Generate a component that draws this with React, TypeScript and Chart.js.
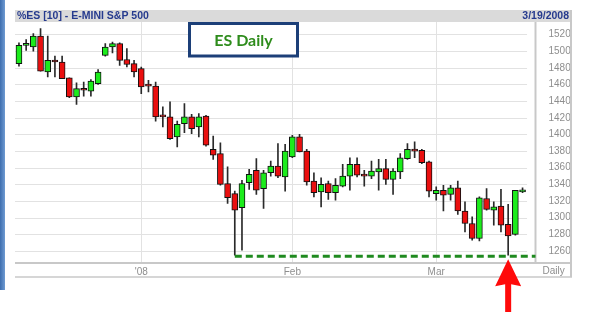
import React, { useEffect, useRef } from 'react';
import { Chart, registerables } from 'chart.js';

Chart.register(...registerables);

// ---------- data ----------
const dates = [
  'Dec 6', 'Dec 7', 'Dec 10', 'Dec 11', 'Dec 12', 'Dec 13', 'Dec 14', 'Dec 17', 'Dec 18', 'Dec 19',
  'Dec 20', 'Dec 21', 'Dec 24', 'Dec 26', 'Dec 27', 'Dec 28', 'Dec 31',
  'Jan 2', 'Jan 3', 'Jan 4', 'Jan 7', 'Jan 8', 'Jan 9', 'Jan 10', 'Jan 11', 'Jan 14', 'Jan 15',
  'Jan 16', 'Jan 17', 'Jan 18', 'Jan 22', 'Jan 23', 'Jan 24', 'Jan 25', 'Jan 28', 'Jan 29', 'Jan 30', 'Jan 31',
  'Feb 1', 'Feb 4', 'Feb 5', 'Feb 6', 'Feb 7', 'Feb 8', 'Feb 11', 'Feb 12', 'Feb 13', 'Feb 14',
  'Feb 15', 'Feb 19', 'Feb 20', 'Feb 21', 'Feb 22', 'Feb 25', 'Feb 26', 'Feb 27', 'Feb 28', 'Feb 29',
  'Mar 3', 'Mar 4', 'Mar 5', 'Mar 6', 'Mar 7', 'Mar 10', 'Mar 11', 'Mar 12', 'Mar 13', 'Mar 14',
  'Mar 17', 'Mar 18', 'Mar 19',
];

const opens = [
  1485, 1507, 1505, 1518, 1475, 1489, 1487, 1468, 1445, 1455,
  1452, 1461, 1495, 1505, 1509, 1490, 1485,
  1479, 1459, 1458, 1423, 1421, 1397, 1413, 1421, 1409, 1422,
  1382, 1377, 1341, 1329, 1312, 1342, 1357, 1335, 1354, 1362, 1349,
  1373, 1397, 1380, 1344, 1331, 1341, 1330, 1338, 1350, 1364,
  1352, 1350, 1355, 1359, 1346, 1355, 1371, 1382, 1381, 1367,
  1329, 1333, 1328, 1336, 1308, 1293, 1275, 1323, 1309, 1314,
  1292, 1280, 1331,
];

const highs = [
  1510, 1514, 1521, 1527, 1518, 1494, 1494, 1468, 1462, 1463,
  1466, 1478, 1509, 1511, 1510, 1503, 1489,
  1481, 1465, 1463, 1433, 1439, 1416, 1437, 1424, 1425, 1423,
  1398, 1390, 1361, 1332, 1345, 1358, 1371, 1357, 1368, 1389, 1388,
  1399, 1400, 1382, 1354, 1348, 1344, 1347, 1364, 1372, 1372,
  1357, 1368, 1370, 1370, 1359, 1377, 1389, 1391, 1382, 1368,
  1337, 1339, 1339, 1344, 1319, 1301, 1325, 1335, 1319, 1334,
  1316, 1333, 1336,
];

const lows = [
  1482, 1501, 1500, 1476, 1469, 1469, 1467, 1444, 1436, 1446,
  1446, 1460, 1494, 1498, 1483, 1481, 1469,
  1449, 1451, 1416, 1409, 1394, 1385, 1402, 1401, 1397, 1386,
  1370, 1339, 1317, 1255, 1261, 1334, 1328, 1311, 1350, 1348, 1332,
  1372, 1379, 1339, 1325, 1313, 1322, 1321, 1337, 1333, 1349,
  1338, 1347, 1333, 1340, 1328, 1347, 1370, 1372, 1365, 1325,
  1321, 1308, 1321, 1304, 1283, 1273, 1272, 1309, 1291, 1283,
  1255, 1279, 1330,
];

const closes = [
  1507, 1507.5, 1518, 1476, 1489, 1487, 1467, 1445, 1455, 1453,
  1464, 1475, 1505, 1509, 1489, 1484, 1475,
  1457, 1458, 1421, 1421, 1395, 1412, 1421, 1407, 1421, 1387,
  1375, 1340, 1324, 1309, 1341, 1352, 1333, 1354, 1362, 1350, 1380,
  1397, 1379, 1343, 1330, 1340, 1330, 1339, 1350, 1364, 1351,
  1350, 1356, 1359, 1346, 1356, 1372, 1382, 1380, 1366, 1332,
  1333, 1327, 1336, 1308, 1293, 1275, 1324, 1310, 1313, 1291,
  1278, 1333, 1332,
];

const monthStartIdx = [17, 38, 58];
const monthLabels = ["'08", 'Feb', 'Mar'];
const yTicks = [1260, 1280, 1300, 1320, 1340, 1360, 1380, 1400, 1420, 1440, 1460, 1480, 1500, 1520];
const supportLevel = 1255;
const supportFromIdx = 30;
const arrowIdx = 68;

const titleText = '%ES [10] - E-MINI S&P 500';
const asOfText = '3/19/2008';
const boxText = 'ES Daily';
const periodText = 'Daily';

// ---------- styles ----------
const UP = '#1cec1c';
const DOWN = '#ea0f0f';
const AXIS_FONT = '"Liberation Sans", Arial, sans-serif';
const AXIS_COLOR = '#8e8e8e';
const FRAME_COLOR = '#c8c8c8';

const framePlugin = {
  id: 'frame',
  beforeDraw(chart: any) {
    const { ctx, chartArea: a, scales } = chart;
    const right = a.right + scales.y.width;
    ctx.save();
    ctx.fillStyle = '#ffffff';
    ctx.fillRect(0, 0, chart.width, chart.height);

    // left blue strip
    const g = ctx.createLinearGradient(0, 0, 5, 0);
    g.addColorStop(0, '#3e6eae');
    g.addColorStop(1, '#6f9bd2');
    ctx.fillStyle = g;
    ctx.fillRect(0, 0, 5, 290);

    // header bar
    ctx.fillStyle = '#dadada';
    ctx.fillRect(a.left, 10, right - a.left, a.top - 10);
    ctx.font = 'bold 10.5px "Liberation Sans", Arial, sans-serif';
    ctx.fillStyle = '#263b8e';
    ctx.textBaseline = 'middle';
    ctx.textAlign = 'left';
    ctx.fillText(titleText, a.left + 2, 16.5);
    ctx.textAlign = 'right';
    ctx.fillText(asOfText, right - 3, 16.5);

    // horizontal grid lines
    const gridRight = scales.x.getPixelForValue(dates.length - 1) + 4.5;
    ctx.strokeStyle = '#e2e2e2';
    ctx.lineWidth = 1;
    yTicks.forEach((v) => {
      const y = Math.round(scales.y.getPixelForValue(v)) + 0.5;
      ctx.beginPath();
      ctx.moveTo(a.left, y);
      ctx.lineTo(gridRight, y);
      ctx.stroke();
    });
    ctx.restore();
  },
  beforeDatasetsDraw(chart: any) {
    const { ctx, chartArea: a, scales } = chart;
    const right = a.right + scales.y.width;
    const bottom = a.bottom + scales.x.height;
    ctx.save();
    ctx.strokeStyle = FRAME_COLOR;
    ctx.lineWidth = 2;
    ctx.beginPath();
    ctx.moveTo(a.right, a.top);
    ctx.lineTo(a.right, a.bottom);
    ctx.stroke();
    ctx.beginPath();
    ctx.moveTo(a.left, a.bottom);
    ctx.lineTo(right, a.bottom);
    ctx.stroke();
    ctx.beginPath();
    ctx.moveTo(right - 1, 10);
    ctx.lineTo(right - 1, bottom);
    ctx.stroke();
    ctx.lineWidth = 1.5;
    ctx.beginPath();
    ctx.moveTo(a.left, bottom);
    ctx.lineTo(right, bottom);
    ctx.stroke();
    ctx.restore();
  },
  afterDatasetsDraw(chart: any) {
    const { ctx, chartArea: a, scales } = chart;
    ctx.save();
    // support line
    const ys = scales.y.getPixelForValue(supportLevel) + 1;
    const xs = scales.x.getPixelForValue(supportFromIdx);
    ctx.strokeStyle = '#1f8a1f';
    ctx.lineWidth = 3;
    ctx.setLineDash([7, 4]);
    ctx.beginPath();
    ctx.moveTo(xs, ys);
    ctx.lineTo(a.right, ys);
    ctx.stroke();
    ctx.setLineDash([]);

    // "Daily"
    ctx.font = '10px ' + AXIS_FONT;
    ctx.fillStyle = AXIS_COLOR;
    ctx.textAlign = 'left';
    ctx.textBaseline = 'top';
    ctx.fillText(periodText, a.right + 7, a.bottom + 3);

    // ES Daily box
    ctx.fillStyle = '#ffffff';
    ctx.fillRect(189, 23, 109, 33);
    ctx.strokeStyle = '#1c3f78';
    ctx.lineWidth = 3;
    ctx.strokeRect(189.5, 23.5, 108, 32.5);
    ctx.font = 'bold 16px Lato, "Open Sans", sans-serif';
    ctx.fillStyle = '#2e8c1c';
    ctx.textAlign = 'center';
    ctx.textBaseline = 'middle';
    ctx.fillText(boxText, 243.5, 40.5);

    // red arrow
    const xa = scales.x.getPixelForValue(arrowIdx);
    const tip = ys + 3;
    ctx.fillStyle = '#ff0a0a';
    ctx.beginPath();
    ctx.moveTo(xa, tip);
    ctx.lineTo(xa + 13, tip + 27);
    ctx.lineTo(xa + 3, tip + 25);
    ctx.lineTo(xa + 3, 312);
    ctx.lineTo(xa - 3, 312);
    ctx.lineTo(xa - 3, tip + 25);
    ctx.lineTo(xa - 13, tip + 27);
    ctx.closePath();
    ctx.fill();
    ctx.restore();
  },
};

export default function App() {
  const ref = useRef<HTMLCanvasElement>(null);

  useEffect(() => {
    if (!ref.current) return;
    const bodyData = dates.map((_, i) => ({ x: i, y: [opens[i], closes[i]] }));
    const wickData = dates.map((_, i) => ({ x: i, y: [lows[i], highs[i]] }));
    const colors = dates.map((_, i) => (closes[i] >= opens[i] ? UP : DOWN));

    const chart = new Chart(ref.current, {
      type: 'bar',
      data: {
        datasets: [
          {
            label: 'Range',
            data: wickData as any,
            backgroundColor: '#2a2a2a',
            borderWidth: 0,
            barThickness: 1,
            grouped: false,
            order: 2,
          } as any,
          {
            label: 'Body',
            data: bodyData as any,
            backgroundColor: colors,
            borderColor: '#111111',
            borderWidth: 1,
            borderSkipped: false,
            barThickness: 6,
            minBarLength: 2,
            grouped: false,
            order: 1,
          } as any,
        ],
      },
      options: {
        responsive: false,
        animation: false,
        events: [],
        layout: { padding: { left: 15, top: 22, right: 21, bottom: 43 } },
        plugins: { legend: { display: false }, tooltip: { enabled: false } },
        scales: {
          x: {
            type: 'linear',
            offset: false,
            min: -0.55,
            max: 71.8,
            afterBuildTicks: (s: any) => {
              s.ticks = monthStartIdx.map((v) => ({ value: v }));
            },
            afterFit: (s: any) => {
              s.height = 14;
            },
            ticks: {
              autoSkip: false,
              maxRotation: 0,
              padding: 3,
              color: AXIS_COLOR,
              font: { family: AXIS_FONT, size: 10 },
              callback: (v: any) => {
                const k = monthStartIdx.indexOf(Number(v));
                return k >= 0 ? monthLabels[k] : '';
              },
            },
            grid: { color: '#e2e2e2', lineWidth: 1, drawTicks: false, offset: false },
            border: { display: false },
          },
          y: {
            type: 'linear',
            position: 'right',
            min: 1245.6,
            max: 1535,
            afterBuildTicks: (s: any) => {
              s.ticks = yTicks.map((v) => ({ value: v }));
            },
            afterFit: (s: any) => {
              s.width = 36.5;
            },
            ticks: {
              padding: 5,
              crossAlign: 'near',
              color: AXIS_COLOR,
              font: { family: AXIS_FONT, size: 10 },
              callback: (v: any) => String(v),
            },
            grid: { display: false },
            border: { display: false },
          },
        },
      } as any,
      plugins: [framePlugin],
    });
    return () => chart.destroy();
  }, []);

  return (
    <div style={{ position: 'absolute', left: 0, top: 0, width: 593, height: 320, background: '#ffffff' }}>
      <canvas ref={ref} width={593} height={320} style={{ display: 'block', width: 593, height: 320 }} />
    </div>
  );
}
